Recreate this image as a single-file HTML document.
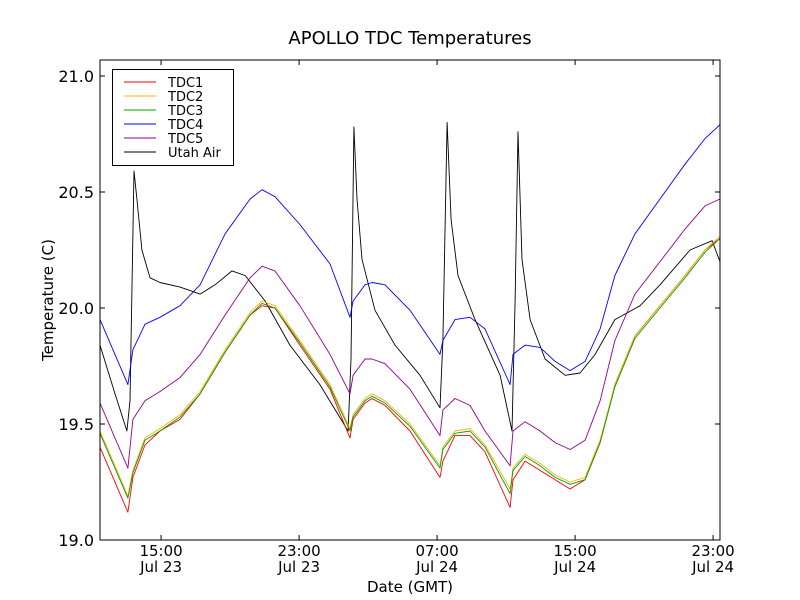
<!DOCTYPE html>
<html><head><meta charset="utf-8"><style>
html,body{margin:0;padding:0;background:#fff;}
svg{display:block;font-family:"DejaVu Sans","Liberation Sans",sans-serif;}
</style></head><body>
<svg id="chart" width="800" height="600" viewBox="0 0 800 600">
<rect x="0" y="0" width="800" height="600" fill="#fff"/>
<text x="410" y="44" font-size="18" text-anchor="middle">APOLLO TDC Temperatures</text>
<g id="series"></g>
<rect x="100" y="60" width="620" height="480" fill="none" stroke="#000" stroke-width="1"/>
<g id="axes"></g>
<text x="410" y="592" font-size="15" text-anchor="middle">Date (GMT)</text>
<text x="53" y="300" font-size="15" text-anchor="middle" transform="rotate(-90 53 300)">Temperature (C)</text>
<g id="legend">
<rect x="112.5" y="69.5" width="121" height="96" fill="#fff" stroke="#000" stroke-width="1"/>
</g>
</svg>
<script>
const times = [11.46,13.08,13.37,14.07,14.94,16.10,17.26,18.71,20.16,20.85,21.60,23.05,24.79,25.95,26.13,26.82,27.23,27.98,29.43,31.17,31.34,32.04,32.91,33.78,35.23,35.40,36.10,36.97,37.84,38.71,39.58,40.45,41.31,42.47,43.92,45.37,46.53,47.40];
const tdc1 = [19.40,19.12,19.27,19.41,19.47,19.52,19.63,19.81,19.97,20.01,20.00,19.84,19.65,19.44,19.52,19.59,19.61,19.58,19.47,19.27,19.34,19.45,19.45,19.38,19.14,19.26,19.34,19.30,19.26,19.22,19.26,19.42,19.67,19.88,20.01,20.14,20.25,20.30];
const tdc2 = [19.47,19.19,19.30,19.44,19.48,19.54,19.64,19.82,19.98,20.03,20.01,19.86,19.67,19.48,19.54,19.61,19.63,19.60,19.50,19.32,19.40,19.47,19.48,19.41,19.22,19.31,19.37,19.33,19.28,19.25,19.27,19.43,19.67,19.88,20.01,20.14,20.25,20.31];
const tdc3 = [19.46,19.18,19.29,19.43,19.47,19.53,19.63,19.81,19.97,20.02,20.00,19.85,19.66,19.47,19.53,19.60,19.62,19.59,19.49,19.31,19.39,19.46,19.47,19.40,19.20,19.30,19.36,19.32,19.27,19.24,19.26,19.42,19.66,19.87,20.00,20.13,20.24,20.30];
const tdc4 = [19.95,19.67,19.82,19.93,19.96,20.01,20.10,20.32,20.47,20.51,20.48,20.36,20.19,19.96,20.03,20.10,20.11,20.10,19.99,19.80,19.86,19.95,19.96,19.91,19.67,19.80,19.84,19.83,19.77,19.73,19.77,19.91,20.14,20.32,20.47,20.62,20.73,20.79];
const tdc5 = [19.59,19.31,19.52,19.60,19.64,19.70,19.80,19.97,20.13,20.18,20.16,20.01,19.80,19.63,19.71,19.78,19.78,19.76,19.65,19.45,19.56,19.61,19.58,19.47,19.32,19.47,19.51,19.47,19.42,19.39,19.43,19.60,19.86,20.06,20.20,20.34,20.44,20.47];
const airTimes = [11.46,12.33,13.02,13.20,13.43,13.60,13.89,14.36,14.94,16.10,17.26,18.13,19.11,19.87,21.03,22.47,24.21,25.84,26.01,26.18,26.36,26.65,27.40,28.56,30.01,31.17,31.34,31.58,31.81,32.21,33.20,34.65,35.34,35.52,35.69,35.92,36.39,37.26,38.42,39.29,40.16,41.31,42.77,43.92,45.66,46.94,47.40];
const utahAir = [19.84,19.63,19.47,19.60,20.59,20.47,20.25,20.13,20.11,20.09,20.06,20.10,20.16,20.14,20.03,19.84,19.67,19.47,19.78,20.78,20.47,20.21,19.99,19.84,19.71,19.57,19.86,20.80,20.38,20.14,19.95,19.71,19.47,20.03,20.76,20.21,19.95,19.78,19.71,19.72,19.80,19.95,20.01,20.10,20.25,20.29,20.20];
const yTicks = [19.0,19.5,20.0,20.5,21.0];
const yTickLabels = ["19.0","19.5","20.0","20.5","21.0"];
const xTicks = [15,23,31,39,47];
const xTickTimes = ["15:00","23:00","07:00","15:00","23:00"];
const xTickDates = ["Jul 23","Jul 23","Jul 24","Jul 24","Jul 24"];
const seriesNames = ["TDC1","TDC2","TDC3","TDC4","TDC5","Utah Air"];

const NS="http://www.w3.org/2000/svg";
const X0=100,X1=720,Y0=60,Y1=540;
const xMin=11.46,xMax=47.40,yMin=19.0,yMax=21.069;
function xs(h){return X0+(h-xMin)/(xMax-xMin)*(X1-X0);}
function ys(v){return Y1-(v-yMin)/(yMax-yMin)*(Y1-Y0);}
function mk(tag,attrs,parent){const e=document.createElementNS(NS,tag);for(const k in attrs)e.setAttribute(k,attrs[k]);parent.appendChild(e);return e;}

const sg=document.getElementById('series');
const defs=[[tdc1,times,"#ff0000","tdc1-line"],[tdc2,times,"#ffb000","tdc2-line"],[tdc3,times,"#00a000","tdc3-line"],[tdc4,times,"#0000ff","tdc4-line"],[tdc5,times,"#900090","tdc5-line"],[utahAir,airTimes,"#000000","utah-air-line"]];
const order=[5,3,4,0,1,2];
order.forEach(i=>{
  const [vals,ts,col,name]=defs[i];
  const d=vals.map((v,j)=>(j?'L':'M')+xs(ts[j]).toFixed(1)+','+ys(v).toFixed(1)).join('');
  const p=mk('path',{d:d,fill:'none',stroke:col,'stroke-width':0.9,'stroke-linejoin':'round'},sg);
  
  
});

const ax=document.getElementById('axes');
yTicks.forEach((v,i)=>{
  const y=ys(v);
  const t1=mk('line',{x1:X0,x2:X0+5,y1:y,y2:y,stroke:'#000'},ax);
  
  
  const t2=mk('line',{x1:X1-5,x2:X1,y1:y,y2:y,stroke:'#000'},ax);
  
  
  const tx=mk('text',{x:94,y:y+6,'font-size':16,'text-anchor':'end'},ax);
  tx.textContent=yTickLabels[i];
  
  
});
xTicks.forEach((h,i)=>{
  const x=xs(h);
  const t1=mk('line',{x1:x,x2:x,y1:Y1,y2:Y1-5,stroke:'#000'},ax);
  
  
  const t2=mk('line',{x1:x,x2:x,y1:Y0,y2:Y0+5,stroke:'#000'},ax);
  
  
  const a=mk('text',{x:x,y:556,'font-size':15,'text-anchor':'middle'},ax);
  a.textContent=xTickTimes[i];
  
  
  const b=mk('text',{x:x,y:572,'font-size':15,'text-anchor':'middle'},ax);
  b.textContent=xTickDates[i];
  
  
});

const lg=document.getElementById('legend');
seriesNames.forEach((n,i)=>{
  const y=82+i*14;
  const l=mk('line',{x1:124,x2:156,y1:y,y2:y,stroke:defs[i][2],'stroke-width':1},lg);
  
  
  const t=mk('text',{x:168,y:y+5,'font-size':13},lg);
  t.textContent=n;
  
  
});
</script>
</body></html>
